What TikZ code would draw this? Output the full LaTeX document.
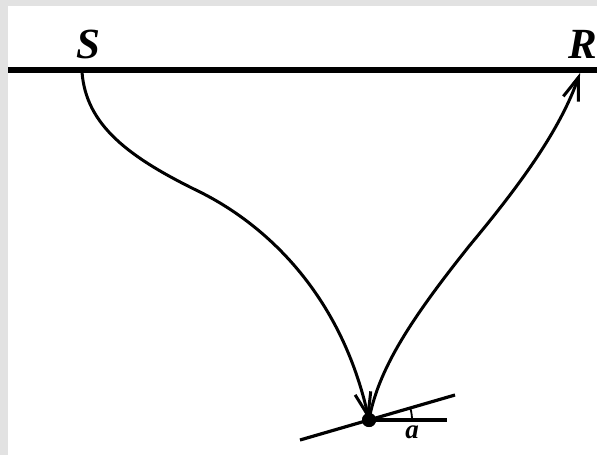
\documentclass[tikz,border=0pt]{standalone}
\usepackage{fontspec}
\setmainfont{Liberation Serif}
\usetikzlibrary{arrows.meta}
\definecolor{framegray}{RGB}{226,226,226}
\begin{document}
\begin{tikzpicture}[x=1pt,y=-1pt,
  ray/.style={line width=3pt, -{Straight Barb[length=23pt,width=16pt]}},
  lbl/.style={font=\fontsize{43}{43}\selectfont\bfseries\itshape, inner sep=0pt},
  thinline/.style={line width=3.2pt}]
\useasboundingbox (0,0) rectangle (597,455);
\fill[framegray] (0,0) rectangle (597,455);
\fill[white] (8,6) rectangle (597,455);
% surface
\coordinate (L) at (8,70);
\coordinate (Rend) at (597,70);
\draw[line width=5.5pt] (L) -- (Rend);
% labels
\node[lbl] (S) at (88,44) {S};
\node[lbl] (R) at (583,44) {R};
% reflector point
\node[circle, fill, inner sep=0pt, minimum size=14pt] (dot) at (369,420) {};
\coordinate (s0) at (82,72);
\coordinate (r0) at (580,73);
% rays
\draw[ray] (s0) .. controls (86,125) and (128,157) .. (200,192)
  .. controls (272,228) and (342,300) .. (dot.center);
\draw[ray] (dot.center) .. controls (378,370) and (410,320) .. (470,245)
  .. controls (520,185) and (560,130) .. (r0);
% reflector dip and horizontal
\coordinate (t1) at (300,440);
\coordinate (t2) at (455,395);
\coordinate (h2) at (447,420);
\draw[thinline] (t1) -- (t2);
\draw[thinline] (dot.center) -- (h2);
\draw[line width=1.8pt] (dot.center) ++(43,0) arc[start angle=0,end angle=-16,radius=43];
\node[font=\fontsize{27}{27}\selectfont\bfseries\itshape, inner sep=0pt] (a) at (412,432) {a};
\fill (dot.center) circle[radius=7];
\end{tikzpicture}
\end{document}
